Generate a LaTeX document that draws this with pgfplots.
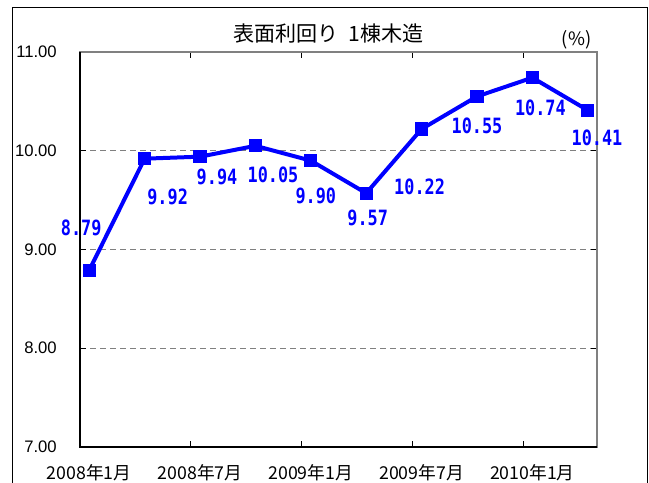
\documentclass[border=0pt]{standalone}
\usepackage{pgfplots}
\usepackage{pgfplotstable}
\pgfplotsset{compat=1.18}
\usepackage{fontspec}
\setmainfont{Liberation Sans}
\newfontfamily\jp{Noto Sans CJK JP}
\newfontfamily\lab[FakeStretch=0.8]{DejaVu Sans Mono}
\definecolor{lineblue}{RGB}{0,0,255}
\definecolor{framegray}{RGB}{128,128,128}

\pgfplotstableread{
x    y     dx     dy      label
0.5  8.79  -6     31.5    8.79
3.5  9.92  17.25  -28.5   9.92
6.5  9.94  12.75  -15     9.94
9.5  10.05 13.2   -21.5   10.05
12.5 9.90  3.75   -26.6   9.90
15.5 9.57  1.1    -18.75  9.57
18.5 10.22 -1.5   -43.5   10.22
21.5 10.55 0      -21.75  10.55
24.5 10.74 6      -22.8   10.74
27.5 10.41 6.9    -20.9   10.41
}\datatable

\begin{document}
\begin{tikzpicture}
\useasboundingbox (0,0) rectangle (486.75pt,-361.5pt);
% outer frame
\draw[black, line width=0.75pt] (9pt,-362pt) -- (9pt,-5.25pt) -- (485.25pt,-5.25pt) -- (485.25pt,-362pt);
% title
\node[font={\jp\fontsize{15.8}{16}\selectfont}, anchor=center, inner sep=0pt] at (246.4pt,-25.5pt) {表面利回り\hspace{0.45em}1棟木造};
\node[font={\jp\fontsize{13.8}{14}\selectfont}, anchor=center, inner sep=0pt] at (432.4pt,-30pt) {(\%)};
\begin{axis}[
  at={(60pt,-335.25pt)}, anchor=south west,
  scale only axis, width=387.75pt, height=296.25pt,
  xmin=0, xmax=28, ymin=7, ymax=11,
  axis line style={draw=framegray, line width=0.9pt},
  xtick={0,6,12,18,24}, xticklabels={},
  extra x ticks={0.5,6.5,12.5,18.5,24.5},
  extra x tick labels={2008年1月,2008年7月,2009年1月,2009年7月,2010年1月},
  extra x tick style={major tick length=0pt, tick style={draw=none}},
  xticklabel style={font={\jp\fontsize{13.3}{14}\selectfont}, anchor=center, yshift=-19.5pt, inner sep=0pt},
  ytick={7,8,9,10,11},
  yticklabel style={font={\fontsize{12.5}{13}\selectfont}, anchor=east, xshift=-17.25pt, inner sep=0pt,
    /pgf/number format/fixed, /pgf/number format/fixed zerofill, /pgf/number format/precision=2,
    /pgf/number format/assume math mode=true},
  tick align=inside, major tick length=4.5pt,
  tick style={black, line width=0.75pt},
  ymajorgrids, major grid style={framegray, line width=0.75pt, dash pattern=on 4.5pt off 3pt},
  clip=false,
]
\addplot[lineblue, line width=3pt, mark=square*, mark size=4.6pt,
  mark options={solid, fill=lineblue, draw=lineblue, line width=0pt},
  point meta=explicit symbolic,
  visualization depends on={\thisrow{dx} \as \dx},
  visualization depends on={\thisrow{dy} \as \dy},
  nodes near coords={\pgfplotspointmeta},
  every node near coord/.append style={font={\lab\bfseries\fontsize{15.8}{16}\selectfont}, text=lineblue, anchor=center, inner sep=0pt, xshift=\dx pt, yshift=\dy pt},
] table[x=x, y=y, meta=label] {\datatable};
\draw[black, line width=1.1pt] (rel axis cs:0,1) -- (rel axis cs:0,0) -- (rel axis cs:1,0);
\end{axis}
\end{tikzpicture}
\end{document}
